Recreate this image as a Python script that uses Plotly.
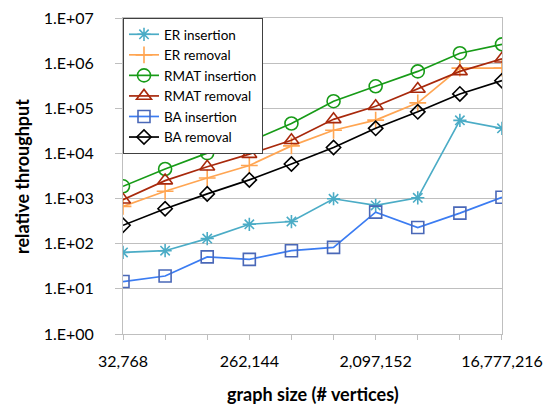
import plotly.graph_objects as go

graph_sizes = [32768, 65536, 131072, 262144, 524288, 1048576, 2097152, 4194304, 8388608, 16777216]
x_tick_labels = ["32,768", "", "", "262,144", "", "", "2,097,152", "", "", "16,777,216"]
y_tick_vals = [1, 10, 100, 1000, 10000, 100000, 1000000, 10000000]
y_tick_labels = ["1.E+00", "1.E+01", "1.E+02", "1.E+03", "1.E+04", "1.E+05", "1.E+06", "1.E+07"]

er_insertion = [64, 70, 130, 269, 310, 990, 705, 1040, 54000, 36000]
er_removal = [670, 1450, 2860, 5420, 14700, 32600, 54800, 132000, 775000, 775000]
rmat_insertion = [1870, 4520, 10160, 18300, 46000, 143600, 307000, 656000, 1660000, 2610000]
rmat_removal = [940, 2500, 5080, 9650, 19600, 56900, 111000, 268000, 656000, 1250000]
ba_insertion = [14.5, 19.3, 51, 45, 70, 83, 500, 228, 477, 1070]
ba_removal = [256, 596, 1270, 2590, 5820, 13500, 36000, 83500, 208000, 409000]

series = [
    ("ER insertion", er_insertion, "#4BACC6", "#4BACC6", "asterisk-open", 11),
    ("ER removal", er_removal, "#FFA552", "#FFA552", "cross-thin-open", 12),
    ("RMAT insertion", rmat_insertion, "#179B17", "#179B17", "circle-open", 13),
    ("RMAT removal", rmat_removal, "#A8290C", "#A8290C", "triangle-up-open", 13),
    ("BA insertion", ba_insertion, "#3B7CF2", "#4A68B8", "square-open", 12),
    ("BA removal", ba_removal, "#000000", "#000000", "diamond-open", 11),
]

fig = go.Figure()
for name, vals, lcol, mcol, sym, size in series:
    fig.add_trace(go.Scatter(
        x=graph_sizes, y=vals, name=name, mode="lines+markers",
        line=dict(color=lcol, width=1.7),
        marker=dict(symbol=sym, size=size, color=mcol, line=dict(color=mcol, width=1.6)),
    ))

font_family = "Lato, 'Open Sans', sans-serif"
# the page body adds an 8px margin at top-left, so the figure is sized to end at the window edge
fig.update_layout(
    width=546, height=398,
    margin=dict(l=115, r=52, t=10, b=71.5, autoexpand=False),
    paper_bgcolor="white", plot_bgcolor="white",
    font=dict(family=font_family, size=16, color="#000000"),
    showlegend=True,
    legend=dict(
        x=0, y=1, xanchor="left", yanchor="top",
        bgcolor="white", bordercolor="#404040", borderwidth=1,
        font=dict(size=13.5, color="#000000"),
        itemwidth=30, tracegroupgap=0,
    ),
    xaxis=dict(
        type="log", automargin=False,
        range=[4.51545, 7.22479],
        tickvals=graph_sizes, ticktext=x_tick_labels,
        ticks="outside", ticklen=5, tickcolor="#BFBFBF",
        ticklabelstandoff=8, ticklabeloverflow="allow",
        showgrid=False, zeroline=False,
        showline=True, linecolor="#BFBFBF", linewidth=1, mirror=True,
        tickfont=dict(size=16),
    ),
    yaxis=dict(
        type="log", automargin=False,
        range=[0, 7],
        tickvals=y_tick_vals, ticktext=y_tick_labels,
        ticks="outside", ticklen=7, tickcolor="#BFBFBF",
        ticklabelstandoff=18, ticklabeloverflow="allow",
        showgrid=True, gridcolor="#BFBFBF", gridwidth=1,
        zeroline=False,
        showline=True, linecolor="#BFBFBF", linewidth=1, mirror=True,
        tickfont=dict(size=16),
    ),
    annotations=[
        dict(text="<b>relative throughput</b>", xref="paper", yref="paper",
             x=-0.2666, y=0.5, xanchor="center", yanchor="middle",
             textangle=-90, showarrow=False, font=dict(size=18, family=font_family)),
        dict(text="<b>graph size (# vertices)</b>", xref="paper", yref="paper",
             x=0.5, y=-0.19, xanchor="center", yanchor="middle",
             showarrow=False, font=dict(size=18, family=font_family)),
    ],
)

fig.write_html("out.html")
